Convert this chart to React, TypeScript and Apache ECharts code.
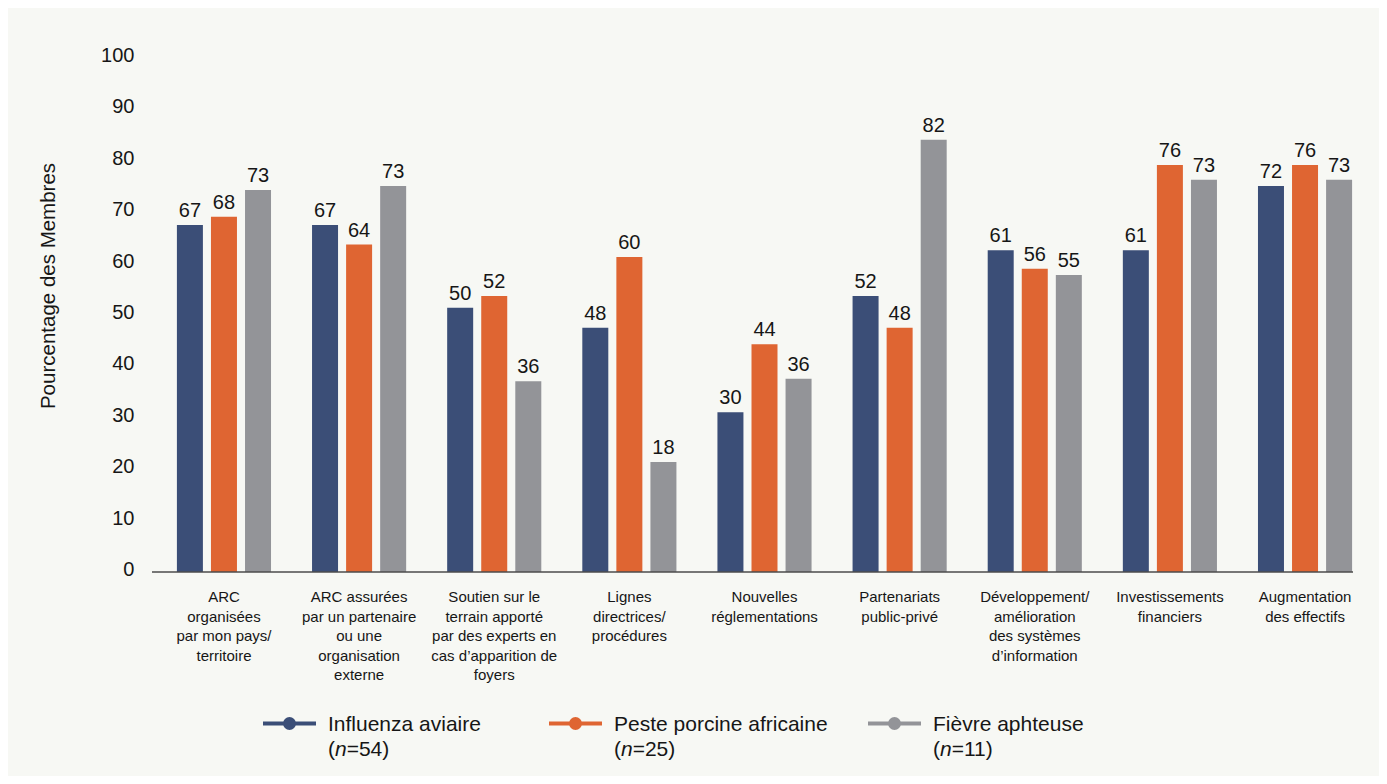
import React, { useEffect, useRef } from "react";
import * as echarts from "echarts";

const categories = [
  "ARC\norganisées\npar mon pays/\nterritoire",
  "ARC assurées\npar un partenaire\nou une\norganisation\nexterne",
  "Soutien sur le\nterrain apporté\npar des experts en\ncas d’apparition de\nfoyers",
  "Lignes\ndirectrices/\nprocédures",
  "Nouvelles\nréglementations",
  "Partenariats\npublic-privé",
  "Développement/\namélioration\ndes systèmes\nd’information",
  "Investissements\nfinanciers",
  "Augmentation\ndes effectifs",
];

const seriesNames = ["Influenza aviaire", "Peste porcine africaine", "Fièvre aphteuse"];
const seriesN = [54, 25, 11];

// bar heights as drawn in the picture
const influenzaValues = [67.5, 67.5, 51.4, 47.5, 31.1, 53.7, 62.6, 62.6, 75.1];
const pesteValues = [69.1, 63.7, 53.7, 61.3, 44.3, 47.5, 59.0, 79.2, 79.2];
const fievreValues = [74.3, 75.1, 37.1, 21.4, 37.6, 84.1, 57.8, 76.3, 76.3];

// printed value labels
const influenzaLabels = [67, 67, 50, 48, 30, 52, 61, 61, 72];
const pesteLabels = [68, 64, 52, 60, 44, 48, 56, 76, 76];
const fievreLabels = [73, 73, 36, 18, 36, 82, 55, 73, 73];

const colors = ["#3b4e77", "#df6532", "#939498"];
const FONT = "'Liberation Sans', Arial, sans-serif";
const TEXT = "#161616";
const BG = "#f7f8f4";

const ICON =
  "path://M0,4.5 L53,4.5 L53,8.5 L0,8.5 Z M20,6.5 A6.5,6.5 0 1 1 33,6.5 A6.5,6.5 0 1 1 20,6.5 Z";

export default function App() {
  const ref = useRef<HTMLDivElement>(null);

  useEffect(() => {
    if (!ref.current) return;
    const chart = echarts.init(ref.current, undefined, { renderer: "svg" });

    const valueSets = [influenzaValues, pesteValues, fievreValues];
    const labelSets = [influenzaLabels, pesteLabels, fievreLabels];
    const legendLefts = [255, 541, 860];

    const series = seriesNames.map((name, i) => ({
      name,
      type: "bar",
      data: valueSets[i],
      barWidth: 26,
      barGap: "31%",
      itemStyle: { color: colors[i] },
      label: {
        show: true,
        position: "top",
        distance: 5,
        fontSize: 20,
        fontFamily: FONT,
        color: TEXT,
        formatter: (p: any) => String(labelSets[i][p.dataIndex]),
      },
    }));

    const legends = seriesNames.map((name, i) => ({
      data: [{ name, icon: ICON }],
      left: legendLefts[i],
      top: 680,
      padding: 0,
      itemWidth: 53,
      itemHeight: 13,
      selectedMode: false,
      formatter: (n: string) =>
        `{s| }\n{p|${n}}\n{p|(}{i|n}{a|=${seriesN[i]})}`,
      textStyle: {
        fontFamily: FONT,
        fontSize: 21,
        color: TEXT,
        rich: {
          s: { fontSize: 21, lineHeight: 25, fontFamily: FONT },
          p: { fontSize: 21, lineHeight: 25, fontFamily: FONT, color: TEXT, padding: [0, 0, 0, 7] },
          a: { fontSize: 21, lineHeight: 25, fontFamily: FONT, color: TEXT },
          i: { fontSize: 21, lineHeight: 25, fontFamily: FONT, color: TEXT, fontStyle: "italic" },
        },
      },
    }));

    chart.setOption({
      animation: false,
      backgroundColor: BG,
      textStyle: { fontFamily: FONT },
      grid: { left: 148.4, right: 6.4, top: 50, bottom: 204, containLabel: false },
      legend: legends,
      xAxis: {
        type: "category",
        data: categories,
        axisLine: { show: false },
        axisTick: { show: false },
        axisLabel: {
          interval: 0,
          margin: 15,
          fontSize: 15,
          lineHeight: 19.5,
          fontFamily: FONT,
          color: TEXT,
          align: "center",
        },
      },
      yAxis: {
        type: "value",
        min: 0,
        max: 100,
        interval: 10,
        name: "Pourcentage des Membres",
        nameLocation: "middle",
        nameGap: 98,
        nameRotate: 90,
        nameTextStyle: {
          fontSize: 20.5,
          fontFamily: FONT,
          color: TEXT,
          padding: [0, 0, 0, 58],
        },
        axisLine: { show: false },
        axisTick: { show: false },
        splitLine: { show: false },
        axisLabel: {
          margin: 22,
          fontSize: 20,
          fontFamily: FONT,
          color: TEXT,
          verticalAlign: "bottom",
          lineHeight: 6,
        },
      },
      graphic: [
        {
          type: "line",
          z: 100,
          shape: { x1: 144, y1: 564, x2: 1345, y2: 564 },
          style: { stroke: "#4d4d4d", lineWidth: 1.5 },
        },
      ],
      series,
    });

    return () => chart.dispose();
  }, []);

  return <div ref={ref} style={{ width: 1371, height: 768, background: BG }} />;
}
